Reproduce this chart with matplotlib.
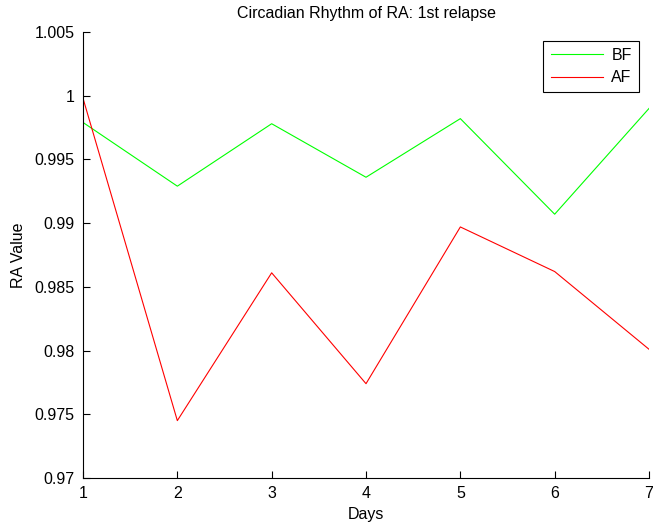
import matplotlib
matplotlib.use("Agg")
import matplotlib.pyplot as plt

days = [1, 2, 3, 4, 5, 6, 7]
bf = [0.9979, 0.9929, 0.9978, 0.9936, 0.9982, 0.9907, 0.9990]
af = [0.9998, 0.9745, 0.9861, 0.9774, 0.9897, 0.9862, 0.9801]
yticks = [0.97, 0.975, 0.98, 0.985, 0.99, 0.995, 1, 1.005]
yticklabels = ["0.97", "0.975", "0.98", "0.985", "0.99", "0.995", "1", "1.005"]

plt.rcParams['font.family'] = ['Liberation Sans', 'DejaVu Sans']
fs = 11.5
fig = plt.figure(figsize=(6.53, 5.26), dpi=100)
ax = fig.add_axes([0.1271, 0.0913, 0.8668, 0.8479])
ax.plot(days, bf, color='#00ff00', lw=0.8, label='BF')
ax.plot(days, af, color='#ff0000', lw=0.8, label='AF')
ax.set_xlim(1, 7)
ax.set_ylim(0.97, 1.005)
ax.set_xticks(days)
ax.set_yticks(yticks)
ax.set_yticklabels(yticklabels)
for s in ['top', 'right']:
    ax.spines[s].set_visible(False)
ax.spines['left'].set_linewidth(0.8)
ax.spines['bottom'].set_linewidth(0.8)
ax.tick_params(direction='in', length=5, width=0.8, labelsize=fs, colors='black', pad=6)
ax.set_title('Circadian Rhythm of RA: 1st relapse', fontsize=fs, pad=10)
ax.set_xlabel('Days', fontsize=fs, labelpad=4)
ax.set_ylabel('RA Value', fontsize=fs, labelpad=6)
leg = ax.legend(loc='upper right', bbox_to_anchor=(0.982, 0.98), borderaxespad=0,
                fancybox=False, framealpha=1, edgecolor='black', fontsize=fs,
                handlelength=3.3, borderpad=0.45, handletextpad=0.5, labelspacing=0.45)
leg.get_frame().set_linewidth(0.8)
fig.savefig('out.png', dpi=100)
